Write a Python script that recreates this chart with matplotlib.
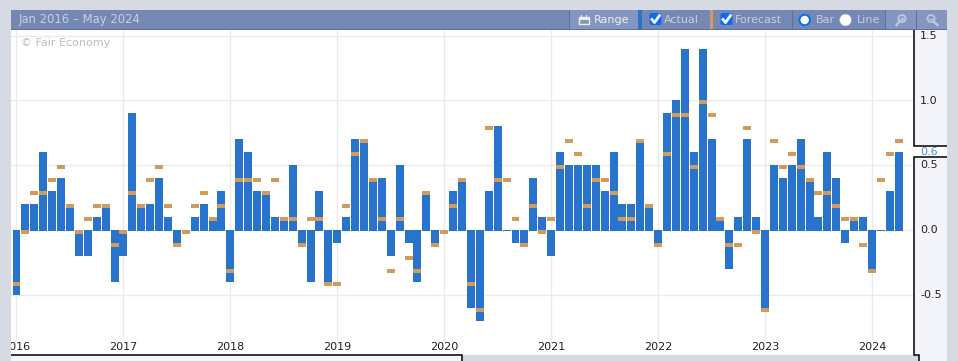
import matplotlib
matplotlib.use('Agg')
import matplotlib.pyplot as plt
from matplotlib.patches import Rectangle, FancyBboxPatch, Circle

# monthly values, Jan 2016 to Apr 2024
actual = [
    -0.5, 0.2, 0.2, 0.6, 0.3, 0.4, 0.2, -0.2, -0.2, 0.1, 0.2, -0.4,
    -0.2, 0.9, 0.2, 0.2, 0.4, 0.1, -0.1, 0.0, 0.1, 0.2, 0.1, 0.3,
    -0.4, 0.7, 0.6, 0.3, 0.3, 0.1, 0.1, 0.5, -0.1, -0.4, 0.3, -0.4,
    -0.1, 0.1, 0.7, 0.7, 0.4, 0.4, -0.2, 0.5, -0.1, -0.4, 0.3, -0.1,
    0.0, 0.3, 0.4, -0.6, -0.7, 0.3, 0.8, 0.0, -0.1, -0.1, 0.4, 0.1,
    -0.2, 0.6, 0.5, 0.5, 0.5, 0.5, 0.3, 0.6, 0.2, 0.2, 0.7, 0.2,
    -0.1, 0.9, 1.0, 1.4, 0.6, 1.4, 0.7, 0.1, -0.3, 0.1, 0.7, 0.1,
    -0.6, 0.5, 0.4, 0.5, 0.7, 0.4, 0.1, 0.6, 0.4, -0.1, 0.1, 0.1,
    -0.3, 0.0, 0.3, 0.6,
]
forecast = [
    -0.4, 0.0, 0.3, 0.3, 0.4, 0.5, 0.2, 0.0, 0.1, 0.2, 0.2, -0.1,
    0.0, 0.3, 0.2, 0.4, 0.5, 0.2, -0.1, 0.0, 0.2, 0.3, 0.1, 0.2,
    -0.3, 0.4, 0.4, 0.4, 0.3, 0.4, 0.1, 0.1, -0.1, 0.1, 0.1, -0.4,
    -0.4, 0.2, 0.6, 0.7, 0.4, 0.1, -0.3, 0.1, -0.2, -0.3, 0.3, -0.1,
    0.0, 0.2, 0.4, -0.4, -0.6, 0.8, 0.4, 0.4, 0.1, -0.1, 0.2, 0.0,
    0.1, 0.5, 0.7, 0.6, 0.2, 0.4, 0.4, 0.3, 0.1, 0.1, 0.7, 0.2,
    -0.1, 0.6, 0.9, 0.9, 0.5, 1.0, 0.9, 0.1, -0.1, -0.1, 0.8, 0.0,
    -0.6, 0.7, 0.5, 0.6, 0.5, 0.4, 0.3, 0.3, 0.2, 0.1, 0.1, -0.1,
    -0.3, 0.4, 0.6, 0.7,
]
years = [2016, 2017, 2018, 2019, 2020, 2021, 2022, 2023, 2024]
y_ticks = [1.5, 1.0, 0.5, 0.0, -0.5]
y_labels = ['1.5', '1.0', '0.5', '0.0', '-0.5']
last_value = '0.6'

W, H = 958, 361
GRAY = '#d5dae3'
PANEL = '#f4f5fa'
HEAD = '#7588b4'
HEAD_LIGHT = '#8496c0'
LINE = '#5a6fa3'
BLUE = '#2874cc'
ORANGE = '#d29b5e'
GRID = '#e9ebf2'
HEAD_TEXT = '#c6cfe2'
ICON = '#bcc7de'

fig = plt.figure(figsize=(W / 100, H / 100), dpi=100, facecolor=GRAY)

# chart area, 11..914 px wide and 30..355 px high
ax = fig.add_axes([11 / W, 1 - 355 / H, 903 / W, 325 / H])
ax.set_xlim(-0.617, 100.72)
ax.set_ylim(-0.965, 1.544)
for s in ax.spines.values():
    s.set_visible(False)
ax.set_xticks([])
ax.set_yticks([])

year_pos = [(y - 2016) * 12 for y in years]
ax.hlines(y_ticks, -1, 101, color=GRID, lw=1, zorder=1)
ax.vlines(year_pos, 14 / 325, 1, color=GRID, lw=1, zorder=1,
          transform=ax.get_xaxis_transform())

months = list(range(len(actual)))
# positive bars reach one pixel under the zero line
bottoms = [-0.008 if v >= 0 else 0 for v in actual]
heights = [v - b for v, b in zip(actual, bottoms)]
ax.bar(months, heights, bottom=bottoms, width=0.895, color=BLUE, zorder=2)
ax.bar(months, [-0.031] * len(forecast), bottom=forecast, width=0.895, color=ORANGE, zorder=3)

for y, p in zip(years, year_pos):
    ax.text(p, 8 / 325, str(y), transform=ax.get_xaxis_transform(), ha='center', va='center',
            fontsize=8, color='#222222', clip_on=True)

# everything around the chart, in pixels
ov = fig.add_axes([0, 0, 1, 1], zorder=5)
ov.set_xlim(0, W)
ov.set_ylim(H, 0)
ov.axis('off')
ov.patch.set_alpha(0)


def box(x0, y0, x1, y1, color):
    ov.add_patch(Rectangle((x0, y0), x1 - x0, y1 - y0, facecolor=color, edgecolor='none'))


def black(xs, ys):
    ov.plot(xs, ys, color='black', lw=1.1, solid_capstyle='butt', solid_joinstyle='miter')


ov.text(21, 43.5, '\u00a9 Fair Economy', fontsize=8, color='#bdbdbd', va='center')

# right axis panel and bottom strip
box(914, 30, 947, 355, PANEL)
box(914, 146, 947, 157, 'white')
box(11, 355, 462, 361, PANEL)
box(919, 355, 947, 361, PANEL)
black([914, 914, 947], [30, 146, 146])
black([947, 914, 914, 919.5, 919.5], [157, 157, 355, 355, 361])
black([11, 462.5, 462.5], [355, 355, 361])
for t, lab in zip(y_ticks, y_labels):
    py = 230 - t * 129.5
    ov.text(920, py, lab, fontsize=8, color='#222222', va='center')
ov.text(920, 152, last_value, fontsize=8, color='#4a8ae0', va='center')

# header bar
box(11, 10, 947, 30, HEAD)
box(569, 10, 638, 29, HEAD_LIGHT)
box(885, 10, 947, 29, HEAD_LIGHT)
box(11, 29, 947, 30, LINE)
box(638, 10, 642, 29, BLUE)
box(710, 10, 713, 29, ORANGE)
for x in [569, 792, 885, 916]:
    box(x, 10, x + 1, 29, LINE)
ov.text(19, 20, 'Jan 2016 \u2013 May 2024', fontsize=8.4, color=HEAD_TEXT, va='center')
ov.text(594, 20, 'Range', fontsize=8, color='#eceff6', va='center')
ov.text(664, 20, 'Actual', fontsize=8, color=HEAD_TEXT, va='center')
ov.text(735, 20, 'Forecast', fontsize=8, color=HEAD_TEXT, va='center')
ov.text(816, 20, 'Bar', fontsize=8, color=HEAD_TEXT, va='center')
ov.text(857, 20, 'Line', fontsize=8, color=HEAD_TEXT, va='center')

# calendar icon
ov.add_patch(Rectangle((579.5, 17), 10, 7, facecolor='none', edgecolor='#eceff6', lw=1))
box(579.5, 17, 589.5, 19.5, '#eceff6')
box(581.5, 15, 582.5, 17, '#eceff6')
box(586.5, 15, 587.5, 17, '#eceff6')

# checkboxes
for x in [649.5, 720.5]:
    ov.add_patch(FancyBboxPatch((x + 1, 14), 10, 10, boxstyle='round,pad=1,rounding_size=2',
                                facecolor='#0a6cf0', edgecolor='none'))
    ov.plot([x + 2.5, x + 5, x + 10], [19.5, 22.5, 15.5], color='white', lw=2)

# radio buttons
ov.add_patch(Circle((804.7, 20), 5.2, facecolor='white', edgecolor='#0a6cf0', lw=1.4))
ov.add_patch(Circle((845.5, 20), 6, facecolor='white', edgecolor='#9aa6c4', lw=0.5))

# zoom icons
ov.add_patch(Circle((902, 18.5), 3.6, facecolor='none', edgecolor=ICON, lw=1.3))
ov.plot([899.5, 896.5], [21.5, 25], color=ICON, lw=1.8)
ov.plot([900, 904], [18.5, 18.5], color=ICON, lw=1)
ov.plot([902, 902], [16.5, 20.5], color=ICON, lw=1)
ov.add_patch(Circle((931, 18.5), 3.6, facecolor='none', edgecolor=ICON, lw=1.3))
ov.plot([933.5, 937.5], [21.5, 25], color=ICON, lw=1.8)
ov.plot([929, 933], [18.5, 18.5], color=ICON, lw=1)

# outer frame, covers the overhang of the chart
box(0, 0, 11, H, GRAY)
box(947, 0, W, H, GRAY)
box(0, 0, W, 10, GRAY)
box(463, 355.5, 919, 361, GRAY)

fig.savefig('out.png', dpi=100, facecolor=GRAY)
